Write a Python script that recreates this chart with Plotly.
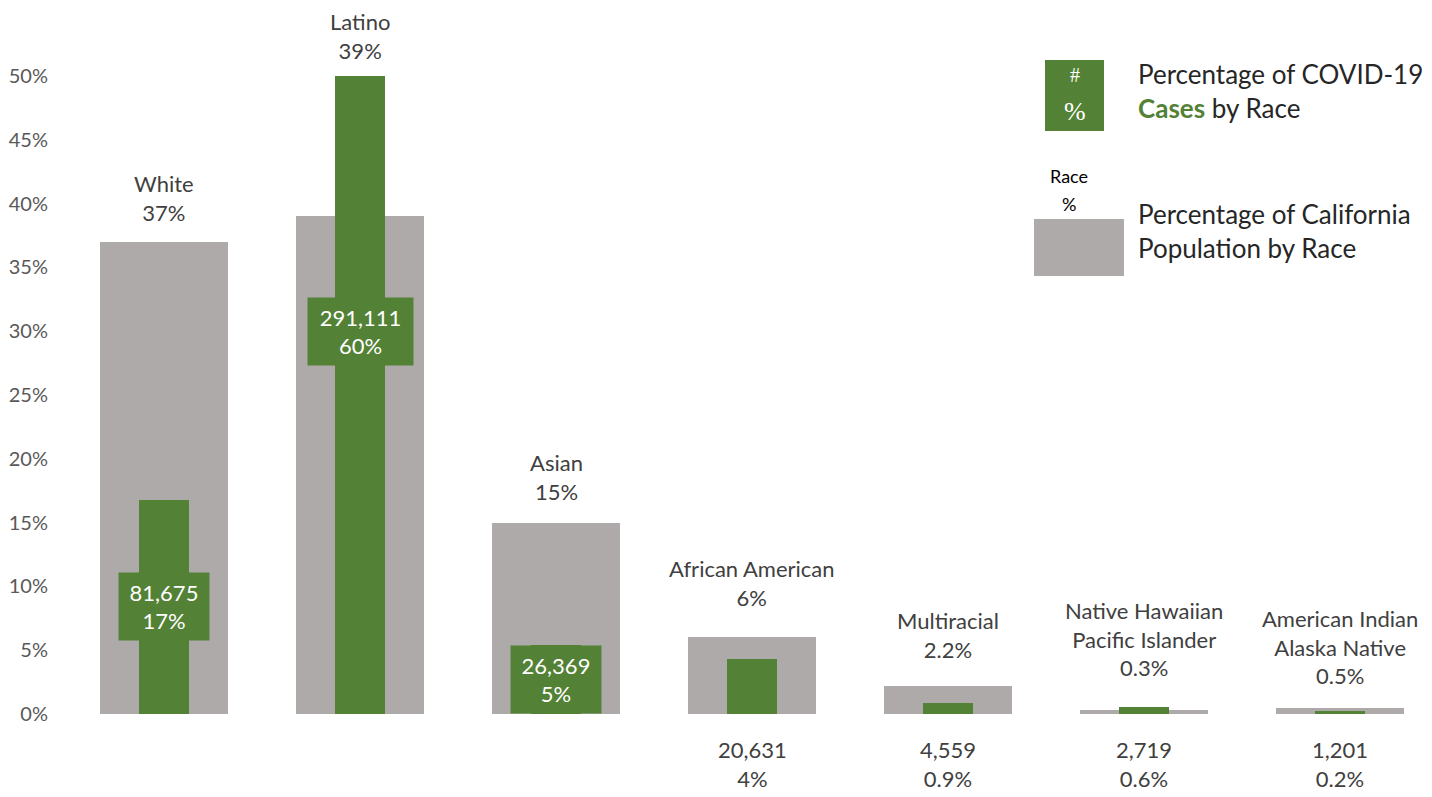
import plotly.graph_objects as go

# ---- data ----
categories = ["White", "Latino", "Asian", "African American", "Multiracial",
              "Native Hawaiian<br>Pacific Islander", "American Indian<br>Alaska Native"]
population_pct = [37, 39, 15, 6, 2.2, 0.3, 0.5]
population_labels = ["37%", "39%", "15%", "6%", "2.2%", "0.3%", "0.5%"]
cases_pct = [16.8, 60, 5.4, 4.3, 0.9, 0.56, 0.25]
case_counts = ["81,675", "291,111", "26,369", "20,631", "4,559", "2,719", "1,201"]
case_pct_labels = ["17%", "60%", "5%", "4%", "0.9%", "0.6%", "0.2%"]
inside_label = [True, True, True, False, False, False, False]
y_ticks = [0, 5, 10, 15, 20, 25, 30, 35, 40, 45, 50]
y_tick_text = ["0%", "5%", "10%", "15%", "20%", "25%", "30%", "35%", "40%", "45%", "50%"]

# style: gap (px) between bar top and category label, per category
label_shift = [15, 11, 17, 25, 22, 25, 18]

GREEN = "#538135"
GRAY = "#AEAAAA"
TEXT = "#404040"
FONT = "Lato, Noto Sans, sans-serif"

W, H = 1432, 797
OFF = 8  # page body margin
L, R_EDGE, T, B_EDGE = 66, 1432, 76, 714  # plot area in screen pixels
YMAX = 50

def px_x(x):
    return (x - L) / (R_EDGE - L)

def px_y(y):
    return (B_EDGE - y) / (B_EDGE - T)

xs = list(range(len(categories)))

fig = go.Figure()
fig.add_trace(go.Bar(x=xs, y=population_pct, width=0.658, marker_color=GRAY,
                     marker_line_width=0, hoverinfo="skip", showlegend=False))
fig.add_trace(go.Bar(x=xs, y=cases_pct, width=0.255, marker_color=GREEN,
                     marker_line_width=0, hoverinfo="skip", showlegend=False))

annotations = []
for i, cat in enumerate(categories):
    top = min(max(population_pct[i], cases_pct[i]), YMAX)
    annotations.append(dict(x=xs[i], y=top, xref="x", yref="y",
                            text=f"{cat}<br>{population_labels[i]}",
                            showarrow=False, yanchor="bottom", yshift=label_shift[i],
                            borderpad=0,
                            font=dict(family=FONT, size=22, color=TEXT)))
    txt = f"{case_counts[i]}<br>{case_pct_labels[i]}"
    if inside_label[i]:
        bw = 15 * len(case_counts[i]) - 14
        annotations.append(dict(x=xs[i], y=cases_pct[i] / 2, xref="x", yref="y",
                                text=txt, showarrow=False, bgcolor=GREEN,
                                borderpad=7, width=bw, height=53,
                                font=dict(family=FONT, size=22, color="white")))
    else:
        annotations.append(dict(x=xs[i], y=0, xref="x", yref="y", text=txt,
                                showarrow=False, yanchor="top", yshift=-20,
                                font=dict(family=FONT, size=22, color=TEXT)))

# ---- custom legend ----
shapes = [
    dict(type="rect", xref="paper", yref="paper", x0=px_x(1045), x1=px_x(1104),
         y0=px_y(131), y1=px_y(60), fillcolor=GREEN, line_width=0),
    dict(type="rect", xref="paper", yref="paper", x0=px_x(1034), x1=px_x(1124),
         y0=px_y(276), y1=px_y(219), fillcolor=GRAY, line_width=0),
]
def lg(x, y, text, size, color, family=FONT, xanchor="center", align="center"):
    return dict(x=px_x(x), y=px_y(y), xref="paper", yref="paper", text=text,
                showarrow=False, xanchor=xanchor, yanchor="middle", align=align,
                font=dict(family=family, size=size, color=color))

annotations += [
    lg(1074.5, 75, "#", 20, "white", family="Liberation Serif"),
    lg(1074.5, 112, "%", 26, "white", family="Liberation Serif"),
    lg(1069, 176, "Race", 18, "black"),
    lg(1069, 204, "%", 18, "black"),
    lg(1136, 91, f"Percentage of COVID-19<br><b><span style='color:{GREEN}'>Cases</span></b> by Race",
       26, "#262626", xanchor="left", align="left"),
    lg(1136, 231, "Percentage of California<br>Population by Race",
       26, "#262626", xanchor="left", align="left"),
]

fig.update_layout(
    width=W, height=H,
    margin=dict(l=L - OFF, r=W - (R_EDGE - OFF), t=T - OFF,
                b=H - (B_EDGE - OFF), pad=0, autoexpand=False),
    plot_bgcolor="white", paper_bgcolor="white",
    barmode="overlay", bargap=0,
    shapes=shapes, annotations=annotations,
    font=dict(family=FONT, color=TEXT),
)
ppu = 196.0
fig.update_xaxes(range=[-0.5, -0.5 + (R_EDGE - L) / ppu], showticklabels=False,
                 showgrid=False, zeroline=False, showline=False, ticks="",
                 automargin=False)
fig.update_yaxes(range=[0, YMAX], tickvals=y_ticks, ticktext=y_tick_text,
                 showgrid=False, zeroline=False, showline=False,
                 ticklabelstandoff=17, automargin=False,
                 tickfont=dict(family=FONT, size=20, color="#595959"))

fig.write_html("out.html")
